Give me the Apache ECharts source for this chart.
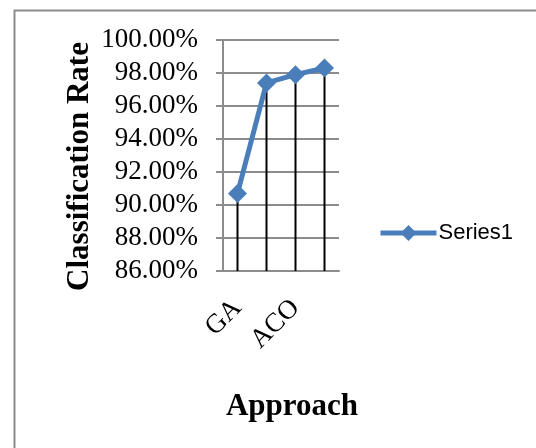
<!DOCTYPE html>
<html>
<head>
<meta charset="utf-8">
<script src="https://cdn.jsdelivr.net/npm/echarts@6/dist/echarts.min.js"></script>
<style>
  html, body { margin: 0; padding: 0; background: #fff; }
  #chart { width: 536px; height: 448px; }
</style>
</head>
<body>
<div id="chart"></div>
<script>
  // only GA and ACO are printed on the axis, the other two names are hidden
  var approaches = ['GA', 'PSO', 'ACO', 'Proposed'];
  var rates = [90.7, 97.4, 97.9, 98.3];
  var yMin = 86, yMax = 100, yStep = 2;

  var serif = 'Liberation Serif';
  var grey = '#8c8c8c';

  var myChart = echarts.init(document.getElementById('chart'));
  var option = {
    animation: false,
    graphic: [{
      type: 'rect',
      left: 12, top: 8,
      shape: { width: 600, height: 500 },
      style: { fill: 'none', stroke: grey, lineWidth: 2 },
      silent: true
    }],
    grid: { left: 223, top: 40, width: 116, height: 231 },
    legend: {
      data: ['Series1'],
      left: 378, top: 222,
      padding: 0,
      itemWidth: 56, itemHeight: 20,
      itemGap: 4,
      lineStyle: { width: 5 },
      textStyle: { fontFamily: 'Liberation Sans', fontSize: 22, color: '#000', padding: [0, 0, 0, -3] }
    },
    xAxis: {
      type: 'category',
      data: approaches,
      name: 'Approach',
      nameLocation: 'middle',
      nameGap: 120,
      nameTextStyle: { fontFamily: serif, fontSize: 31, fontWeight: 'bold', color: '#000', padding: [0, 0, 0, 22] },
      axisLine: { lineStyle: { color: grey, width: 2 } },
      axisTick: { show: false },
      axisLabel: {
        interval: 1,
        rotate: 45,
        margin: 33,
        fontFamily: serif, fontSize: 27, color: '#000'
      },
      splitLine: { show: false }
    },
    yAxis: {
      type: 'value',
      min: yMin, max: yMax, interval: yStep,
      name: 'Classification Rate',
      nameLocation: 'middle',
      nameGap: 128,
      nameTextStyle: { fontFamily: serif, fontSize: 31, fontWeight: 'bold', color: '#000', padding: [0, 22, 0, 0] },
      axisLine: { show: true, lineStyle: { color: grey, width: 2 } },
      axisTick: { show: true, length: 7, lineStyle: { color: grey, width: 2 } },
      axisLabel: {
        margin: 25,
        fontFamily: serif, fontSize: 27, color: '#000',
        formatter: function (v) { return v.toFixed(2) + '%'; }
      },
      splitLine: { lineStyle: { color: grey, width: 2 } }
    },
    series: [
      {
        // drop lines from each point to the category axis
        name: 'drop',
        type: 'bar',
        data: rates,
        barWidth: 2,
        itemStyle: { color: '#000' },
        silent: true
      },
      {
        name: 'Series1',
        type: 'line',
        data: rates,
        symbol: 'diamond',
        symbolSize: 19,
        lineStyle: { color: '#4a7ebb', width: 5 },
        itemStyle: { color: '#4a7ebb' },
        z: 5
      }
    ]
  };
  myChart.setOption(option);
</script>
</body>
</html>
